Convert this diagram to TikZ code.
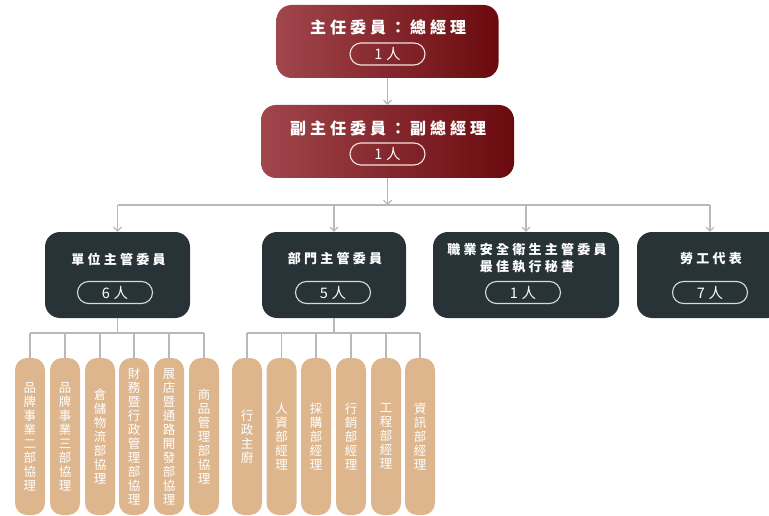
\documentclass[tikz,border=0pt]{standalone}
\usepackage{fontspec}
\newfontfamily\cjk{Noto Sans CJK TC}
\newfontfamily\cjkT[LetterSpace=25]{Noto Sans CJK TC}
\newfontfamily\cjkD[LetterSpace=25]{Noto Sans CJK TC}
\newfontfamily\cjkP[LetterSpace=25]{Noto Sans CJK TC}
\usetikzlibrary{arrows.meta}
\definecolor{redL}{HTML}{A0464C}
\definecolor{redR}{HTML}{6A0A0E}
\definecolor{slate}{HTML}{283338}
\definecolor{beige}{HTML}{DDB68E}
\definecolor{conn}{HTML}{B8B8B8}
\definecolor{pillR}{HTML}{F2E2E2}
\definecolor{pillD}{HTML}{D6DADC}
\tikzset{
  redbox/.style={rectangle, rounded corners=15pt, left color=redL, right color=redR, draw=none, inner sep=0pt},
  darkbox/.style={rectangle, rounded corners=15pt, fill=slate, draw=none, inner sep=0pt, minimum height=86pt},
  redtitle/.style={text=white, font=\cjkT\bfseries\fontsize{16}{18}\selectfont, inner sep=0pt},
  darktitle/.style={text=white, font=\cjkD\bfseries\fontsize{13}{18}\selectfont, inner sep=0pt, align=center},
  countpill/.style={rectangle, rounded corners=11pt, draw=#1, line width=1.1pt, text=white,
     font=\cjkP\fontsize{14.5}{16}\selectfont, minimum width=75pt, minimum height=22pt, inner sep=0pt},
  deptpill/.style={rectangle, rounded corners=12pt, fill=beige, draw=none, minimum width=30pt,
     minimum height=157pt, inner sep=0pt, text=white, align=center, text width=14pt,
     font=\cjk\fontsize{12.5}{14}\selectfont},
  arr/.style={draw=conn, line width=1.1pt, -{Straight Barb[length=4pt,width=8pt]}},
  ln/.style={draw=conn, line width=1.1pt}
}
\begin{document}
\begin{tikzpicture}[x=1pt,y=-1pt]
\useasboundingbox (0,0) rectangle (769,516);
\clip (0,0) rectangle (769,516);
% top boxes
\node[redbox, minimum width=222pt, minimum height=73pt] (top) at (387.5,41.5) {};
\node[redtitle] (toptxt) at (388,27) {主任委員：總經理};
\node[countpill=pillR] (toppill) at (387.5,54) {1人};
\node[redbox, minimum width=253pt, minimum height=73pt] (sec) at (387.5,141.5) {};
\node[redtitle] (sectxt) at (388,128) {副主任委員：副總經理};
\node[countpill=pillR] (secpill) at (387.5,154) {1人};
% dark boxes
\node[darkbox, minimum width=145pt] (b1) at (117.5,275) {};
\node[darktitle] (b1t) at (118.5,259) {單位主管委員};
\node[countpill=pillD] (b1p) at (115,292.5) {6人};
\node[darkbox, minimum width=144pt] (b2) at (334,275) {};
\node[darktitle] (b2t) at (335,259) {部門主管委員};
\node[countpill=pillD] (b2p) at (333,292.5) {5人};
\node[darkbox, minimum width=186pt] (b3) at (526,275) {};
\node[darktitle] (b3t) at (527,258.5) {職業安全衛生主管委員\\[-1pt]最佳執行秘書};
\node[countpill=pillD] (b3p) at (523,292.5) {1人};
\node[darkbox, minimum width=146pt] (b4) at (710,275) {};
\node[darktitle] (b4t) at (711,259) {勞工代表};
\node[countpill=pillD] (b4p) at (710,292.5) {7人};
% connectors, upper
\coordinate (hub) at (387.5,205);
\coordinate (c1) at (117.5,205);
\coordinate (c2) at (334,205);
\coordinate (c3) at (526,205);
\coordinate (c4) at (710,205);
\draw[arr] (top.south) -- (sec.north);
\draw[arr] (sec.south) -- (hub);
\draw[ln] (c1) -- (c4);
\draw[arr] (c1) -- (b1.north);
\draw[arr] (c2) -- (b2.north);
\draw[arr] (c3) -- (b3.north);
\draw[arr] (c4) -- (b4.north);
% department pills group 1
\node[deptpill] (p11) at (30,436.5) {品\\牌\\事\\業\\二\\部\\協\\理};
\node[deptpill] (p12) at (65,436.5) {品\\牌\\事\\業\\三\\部\\協\\理};
\node[deptpill] (p13) at (100,436.5) {倉\\儲\\物\\流\\部\\協\\理};
\node[deptpill] (p14) at (134,436.5) {財\\務\\暨\\行\\政\\管\\理\\部\\協\\理};
\node[deptpill] (p15) at (169,436.5) {展\\店\\暨\\通\\路\\開\\發\\部\\協\\理};
\node[deptpill] (p16) at (204,436.5) {商\\品\\管\\理\\部\\協\\理};
% department pills group 2
\node[deptpill] (p21) at (247,436.5) {行\\政\\主\\廚};
\node[deptpill] (p22) at (281.5,436.5) {人\\資\\部\\經\\理};
\node[deptpill] (p23) at (316,436.5) {採\\購\\部\\經\\理};
\node[deptpill] (p24) at (351,436.5) {行\\銷\\部\\經\\理};
\node[deptpill] (p25) at (386,436.5) {工\\程\\部\\經\\理};
\node[deptpill] (p26) at (420,436.5) {資\\訊\\部\\經\\理};
% connectors, lower
\coordinate (g1) at (117.5,333);
\coordinate (g1l) at (30,333);
\coordinate (g1r) at (204,333);
\coordinate (g2) at (334,333);
\coordinate (g2l) at (247,333);
\coordinate (g2r) at (420,333);
\draw[ln] (b1.south) -- (g1);
\draw[ln] (g1l) -- (g1r);
\foreach \p in {p11,p12,p13,p14,p15,p16} \draw[ln] (\p.north |- g1) -- (\p.north);
\draw[ln] (b2.south) -- (g2);
\draw[ln] (g2l) -- (g2r);
\foreach \p in {p21,p22,p23,p24,p25,p26} \draw[ln] (\p.north |- g2) -- (\p.north);
\end{tikzpicture}
\end{document}
